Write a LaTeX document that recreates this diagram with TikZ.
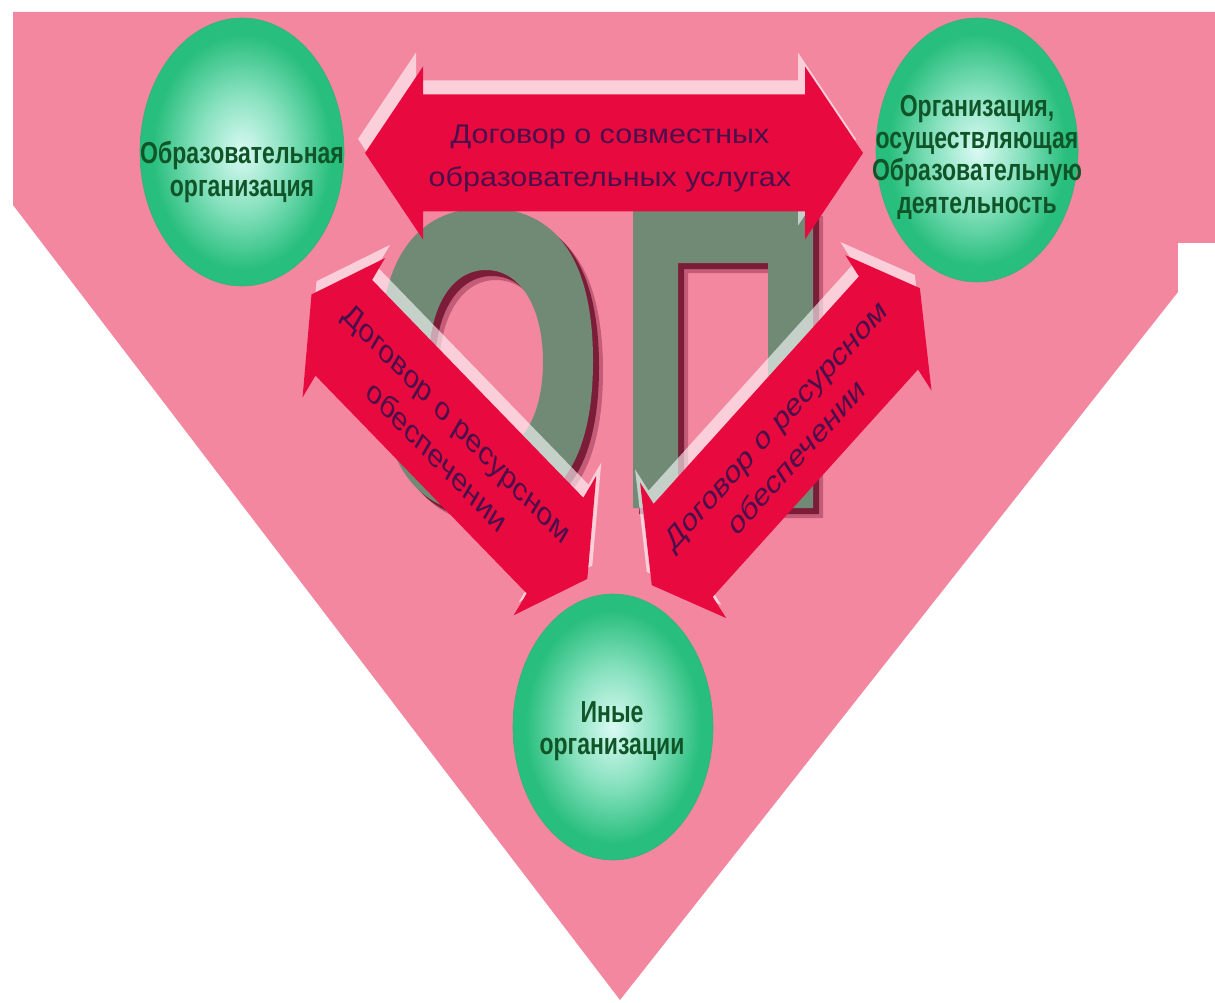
\documentclass[tikz,border=0pt]{standalone}
\usepackage{fontspec}
\setmainfont{Liberation Sans}
\usetikzlibrary{shapes.geometric}
\definecolor{bgpink}{RGB}{244,135,160}
\definecolor{arrred}{RGB}{232,10,62}
\definecolor{arrtext}{RGB}{75,15,75}
\definecolor{lettergray}{RGB}{112,138,118}
\definecolor{lettershadow}{RGB}{105,12,42}
\definecolor{eggout}{RGB}{40,190,125}
\definecolor{eggmid}{RGB}{135,225,190}
\definecolor{eggin}{RGB}{218,250,244}
\definecolor{eggtext}{RGB}{15,85,40}
\pgfdeclareradialshading{eggshade}{\pgfpoint{0bp}{0bp}}{color(0bp)=(eggin); color(11bp)=(eggmid); color(22bp)=(eggout); color(25bp)=(eggout); color(50bp)=(eggout)}
\newcommand\dblarrowpath[4]{({-(#1)/2},0) -- ({-(#1)/2+(#2)},{#3}) -- ({-(#1)/2+(#2)},{#4}) -- ({(#1)/2-(#2)},{#4}) -- ({(#1)/2-(#2)},{#3}) -- ({(#1)/2},0) -- ({(#1)/2-(#2)},{-(#3)}) -- ({(#1)/2-(#2)},{-(#4)}) -- ({-(#1)/2+(#2)},{-(#4)}) -- ({-(#1)/2+(#2)},{-(#3)}) -- cycle}
\newcommand\letterO{(593,361) .. controls (593,260) and (556.6,208) .. (486,208) .. controls (415.4,208) and (379,260) .. (379,361) .. controls (379,462) and (415.4,514) .. (486,514) .. controls (556.6,514) and (593,462) .. (593,361) -- cycle
  (543,362) .. controls (543,306.8) and (520.2,270) .. (486,270) .. controls (451.8,270) and (429,306.8) .. (429,362) .. controls (429,417.2) and (451.8,454) .. (486,454) .. controls (520.2,454) and (543,417.2) .. (543,362) -- cycle}
\newcommand\letterP{(633,508) -- (633,206) -- (813,206) -- (813,508) -- (768,508) -- (768,263) -- (678,263) -- (678,508) -- cycle}
\tikzset{
  egg/.style={ellipse, shading=eggshade, draw=eggout!75!gray, line width=0.6pt, inner sep=0pt},
  eggtxt/.style={font=\bfseries\fontsize{23}{24.5}\selectfont, text=eggtext, align=center, yscale=1.32, inner sep=0pt},
  redarrow/.style={fill=arrred},
  bevel/.style={fill=white, fill opacity=0.6},
  toptxt/.style={font=\fontsize{27}{43}\selectfont, text=arrtext, align=center, xscale=1.13, inner sep=0pt},
  diagtxt/.style={font=\fontsize{24}{32}\selectfont, text=arrtext, align=center, xscale=1.19, inner sep=0pt, transform shape},
  lshadow/.style={fill=lettershadow, even odd rule},
  lface/.style={fill=lettergray, even odd rule},
}
\begin{document}
\begin{tikzpicture}[x=1pt,y=-1pt]
\useasboundingbox (0,0) rectangle (1215,1003);
\fill[white] (0,0) rectangle (1215,1003);
% background
\fill[bgpink] (13,12) -- (1215,12) -- (1215,245) -- (620,1000) -- (13,205) -- cycle;
\fill[white] (1178,243) rectangle (1215,1003);
% letters with soft shadow
\fill[lshadow, opacity=0.35, shift={(10,10)}] \letterO;
\fill[lshadow, opacity=0.35, shift={(10,10)}] \letterP;
\fill[lshadow, opacity=0.8, shift={(6,6)}] \letterO;
\fill[lshadow, opacity=0.8, shift={(6,6)}] \letterP;
\fill[lface] \letterO;
\fill[lface] \letterP;
% ellipses
\node[egg, minimum width=204pt, minimum height=268pt] (orgA) at (242,152) {};
\node[egg, minimum width=202pt, minimum height=264pt] (orgB) at (977,150) {};
\node[egg, minimum width=200pt, minimum height=266pt] (orgC) at (613,727) {};
\node[eggtxt] (orgAtxt) at (242,172) {Образовательная\\организация};
\node[eggtxt] (orgBtxt) at (977,157) {Организация,\\осуществляющая\\Образовательную\\деятельность};
\node[eggtxt] (orgCtxt) at (612,731) {Иные\\организации};
% top arrow
\fill[bevel, shift={(607,139)}] \dblarrowpath{498}{58}{86.5}{58.5};
\fill[redarrow, shift={(614,153)}] \dblarrowpath{498}{58}{86.5}{58.5};
\node[toptxt] (topTxt) at (610,159) {Договор о совместных\\образовательных услугах};
% diagonal arrows (drawn in the unstretched frame)
\begin{scope}[yscale=1.32]
\fill[bevel, shift={(454.4,320.8)}, rotate=-38] \dblarrowpath{350}{41}{67}{46};
\fill[redarrow, shift={(449.4,330.8)}, rotate=-38] \dblarrowpath{350}{41}{67}{46};
\fill[bevel, shift={(780.8,320.8)}, rotate=40] \dblarrowpath{350}{41}{67}{46};
\fill[redarrow, shift={(785.8,330.8)}, rotate=40] \dblarrowpath{350}{41}{67}{46};
\node[rotate=-38, diagtxt] (leftTxt) at (447,333) {Договор о ресурсном\\обеспечении};
\node[rotate=40, diagtxt] (rightTxt) at (786,334) {Договор о ресурсном\\обеспечении};
\end{scope}
\end{tikzpicture}
\end{document}
